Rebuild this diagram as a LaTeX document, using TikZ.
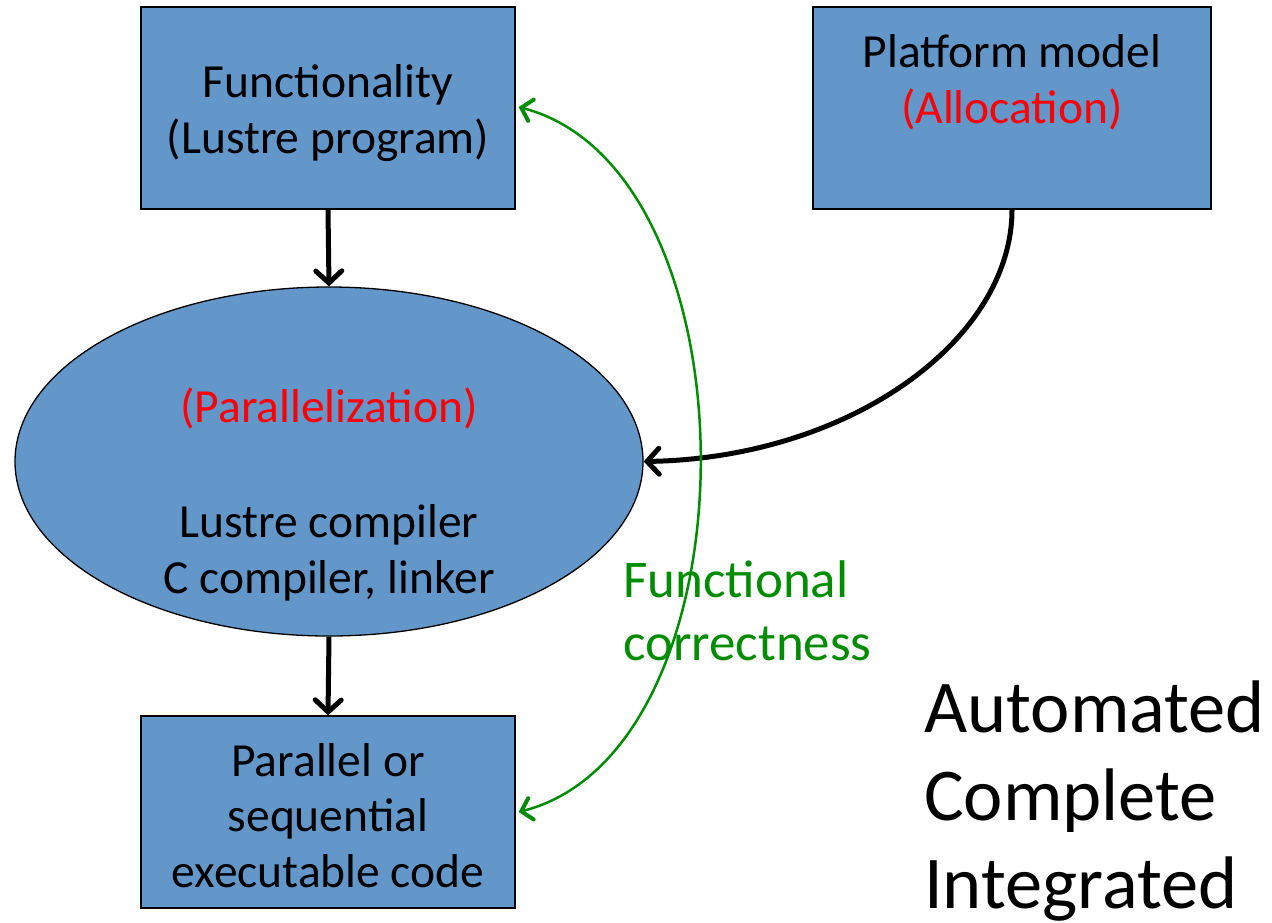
\documentclass[tikz,border=0pt]{standalone}
\usepackage{fontspec}
\setmainfont{Carlito}
\usetikzlibrary{arrows.meta,shapes.geometric}
\definecolor{boxblue}{RGB}{99,150,201}
\definecolor{fgreen}{RGB}{0,140,0}
\definecolor{fred}{RGB}{255,0,0}
\tikzset{
  boxnode/.style={draw=black, line width=1.3pt, fill=boxblue, rectangle, inner sep=0pt},
  txt/.style={font=\fontsize{47.5}{55.5}\selectfont, align=center, inner sep=0pt, anchor=base},
  bigtxt/.style={font=\fontsize{74.5}{88}\selectfont, align=left, inner sep=0pt, anchor=base west},
  blackarrow/.style={draw=black, line width=5pt, -{Straight Barb[length=12pt,width=26pt,line cap=round]}},
  greenarrow/.style={draw=fgreen, line width=2.5pt, {Straight Barb[length=10pt,width=22pt,line cap=round,line width=4pt]}-{Straight Barb[length=10pt,width=22pt,line cap=round,line width=4pt]}}
}
\begin{document}
\begin{tikzpicture}[x=1pt,y=-1pt]
\useasboundingbox (0,0) rectangle (1272,922);
\node[boxnode, minimum width=374pt, minimum height=202pt] (func) at (328,108) {};
\node[txt] (functxt) at (328,153) {Functionality\\(Lustre program)};
\node[boxnode, minimum width=398pt, minimum height=202pt] (plat) at (1012,108) {};
\node[txt] (plattxt) at (1012,123) {Platform model\\\textcolor{fred}{(Allocation)}};
\node[draw=black, line width=1.3pt, fill=boxblue, ellipse, minimum width=628pt, minimum height=349pt, inner sep=0pt] (comp) at (329,461.5) {};
\node[txt] (partxt) at (329,422) {\textcolor{fred}{(Parallelization)}};
\node[txt] (comptxt) at (329,593) {Lustre compiler\\C compiler, linker};
\node[boxnode, minimum width=374pt, minimum height=192pt] (exec) at (328,812) {};
\node[txt] (exectxt) at (328,887) {Parallel or\\sequential\\executable code};
\node[txt, text=fgreen, align=left, anchor=base west, font=\fontsize{53}{63}\selectfont] (fc) at (623,660) {Functional\\correctness};
\node[bigtxt] (aci) at (924,908) {Automated\\Complete\\Integrated};
\draw[blackarrow] (func.south) -- (comp.north);
\draw[blackarrow] (comp.south) -- (exec.north);
\draw[blackarrow] (plat.south) .. controls (1012,340) and (850,458) .. (comp.east);
\draw[greenarrow] ([xshift=3pt]func.east |- 0,107) .. controls (760,170) and (760,750) .. ([xshift=3pt]exec.east |- 0,812);
\end{tikzpicture}
\end{document}
